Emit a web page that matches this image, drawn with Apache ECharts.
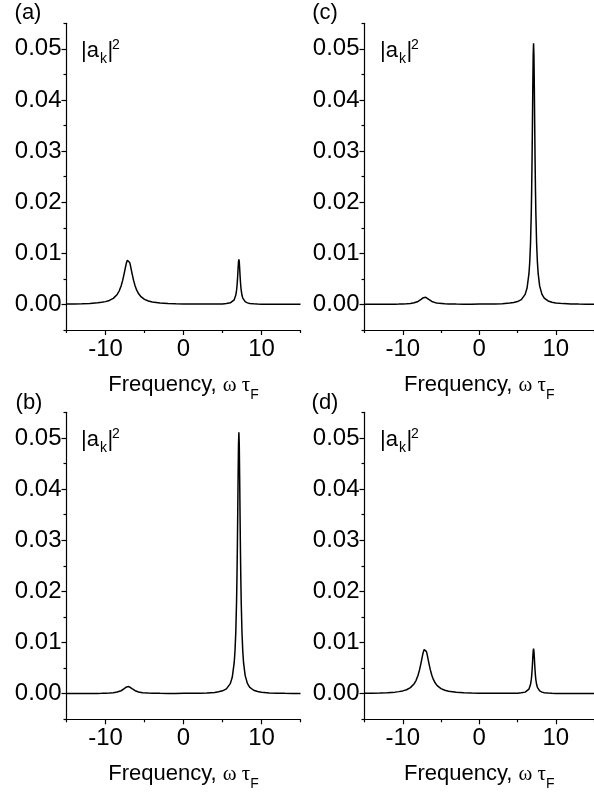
<!DOCTYPE html>
<html><head><meta charset="utf-8">
<script src="https://cdn.jsdelivr.net/npm/echarts@6/dist/echarts.min.js"></script>
<style>html,body{margin:0;padding:0;background:#fff}#c{width:594px;height:800px}</style>
</head><body><div id="c"></div>
<script>
// ---- data ----
const freq = [-15,-14,-13,-12,-11,-10.5,-10,-9.5,-9,-8.75,-8.5,-8.25,-8,-7.8,-7.6,-7.4,-7.3,-7.2,-7.1,-7.0,-6.9,-6.8,-6.6,-6.4,-6.2,-6,-5.75,-5.5,-5.25,-5,-4.5,-4,-3,-2,-1,0,1,2,3,4,4.5,5,5.5,6,6.25,6.5,6.6,6.7,6.8,6.85,6.9,6.95,7.0,7.05,7.1,7.15,7.2,7.25,7.3,7.35,7.4,7.5,7.6,7.7,7.9,8.2,8.5,9,9.5,10,11,12,13,14,15];
// panels (a) and (d)
const spectrumAD = [0.00008,0.00010,0.00014,0.00020,0.00031,0.00041,0.00055,0.00078,0.00119,0.00151,0.00196,0.00263,0.00361,0.00470,0.00609,0.00759,0.00822,0.00865,0.00880,0.00865,0.00822,0.00759,0.00609,0.00470,0.00361,0.00279,0.00208,0.00159,0.00124,0.00100,0.00068,0.00049,0.00029,0.00019,0.00014,0.00010,0.00008,0.00007,0.00007,0.00008,0.00009,0.00011,0.00017,0.00031,0.00049,0.00091,0.00124,0.00179,0.00274,0.00346,0.00443,0.00566,0.00707,0.00831,0.00883,0.00831,0.00707,0.00566,0.00443,0.00346,0.00273,0.00179,0.00124,0.00091,0.00054,0.00031,0.00020,0.00012,0.00008,0.00006,0.00004,0.00003,0.00003,0.00002,0.00002];
// panels (b) and (c)
const spectrumBC = [0.00002,0.00002,0.00003,0.00004,0.00006,0.00007,0.00010,0.00013,0.00020,0.00025,0.00032,0.00043,0.00058,0.00076,0.00098,0.00122,0.00132,0.00139,0.00141,0.00139,0.00132,0.00122,0.00098,0.00076,0.00059,0.00046,0.00035,0.00027,0.00021,0.00018,0.00013,0.00010,0.00007,0.00006,0.00006,0.00007,0.00008,0.00010,0.00015,0.00026,0.00037,0.00056,0.00095,0.00197,0.00321,0.00606,0.00829,0.01187,0.01787,0.02230,0.02798,0.03488,0.04235,0.04859,0.05110,0.04859,0.04235,0.03488,0.02798,0.02230,0.01787,0.01187,0.00829,0.00606,0.00359,0.00197,0.00123,0.00068,0.00043,0.00029,0.00016,0.00010,0.00007,0.00005,0.00004];
const xTicks = [-10, 0, 10];
const xMinorTicks = [-15, -5, 5, 15];
const yTicks = [0, 0.01, 0.02, 0.03, 0.04, 0.05];
const yMinorTicks = [-0.005, 0.005, 0.015, 0.025, 0.035, 0.045, 0.055];
const panelLabels = ['(a)', '(c)', '(b)', '(d)'];
const panelSeries = [spectrumAD, spectrumBC, spectrumBC, spectrumAD];

// ---- layout ----
const grids = [
  {left: 66.5, top: 23.3, width: 234, height: 306.7},
  {left: 364.5, top: 23.3, width: 235, height: 306.7},
  {left: 66.5, top: 412.3, width: 234, height: 307},
  {left: 364.5, top: 412.3, width: 235, height: 307}
];
const offsets = [[0,0],[299,0],[0,389],[299,389]];
const labelPos = [[28,13],[325,13],[29,403],[325,403]];
const SANS = '"Liberation Sans", Arial, sans-serif';
const SERIF = '"Liberation Serif", "Times New Roman", serif';
const black = '#000';

const xAxis = [], yAxis = [], series = [], graphic = [];
grids.forEach((g, i) => {
  xAxis.push({
    gridIndex: i, type: 'value', min: -15, max: 15, position: 'bottom',
    axisLine: {onZero: false, lineStyle: {color: black, width: 1.2}},
    axisTick: {customValues: xTicks, length: 5, lineStyle: {color: black, width: 1.2}},
    axisLabel: {customValues: xTicks, margin: 7, color: black, fontSize: 24, fontFamily: SANS},
    splitLine: {show: false},
    name: '{t|Frequency, }{g|ω τ}{s|F}', nameLocation: 'middle', nameGap: 38,
    nameTextStyle: {rich: {
      t: {fontFamily: SANS, fontSize: 22, color: black, lineHeight: 28, verticalAlign: 'bottom'},
      g: {fontFamily: SERIF, fontSize: 21, color: black, lineHeight: 28, verticalAlign: 'bottom'},
      s: {fontFamily: SANS, fontSize: 14, color: black, lineHeight: 14, verticalAlign: 'bottom', padding: [0,0,-6,0]}
    }}
  });
  yAxis.push({
    gridIndex: i, type: 'value', min: -0.005, max: 0.055, position: 'left',
    axisLine: {onZero: false, lineStyle: {color: black, width: 1.2}},
    axisTick: {customValues: yTicks, length: 5, lineStyle: {color: black, width: 1.2}},
    axisLabel: {customValues: yTicks, margin: 5, color: black, fontSize: 24, fontFamily: SANS,
      formatter: v => Number(v).toFixed(2)},
    splitLine: {show: false}
  });
  series.push({
    type: 'line', xAxisIndex: i, yAxisIndex: i, showSymbol: false, symbol: 'none',
    lineStyle: {color: black, width: 1.5}, animation: false,
    data: freq.map((f, k) => [f, panelSeries[i][k]])
  });
});
// minor tick axes
grids.forEach((g, i) => {
  xAxis.push({
    gridIndex: i, type: 'value', min: -15, max: 15, position: 'bottom',
    axisLine: {show: false, onZero: false},
    axisTick: {customValues: xMinorTicks, length: 3, lineStyle: {color: black, width: 1.2}},
    axisLabel: {show: false}, splitLine: {show: false}
  });
  yAxis.push({
    gridIndex: i, type: 'value', min: -0.005, max: 0.055, position: 'left',
    axisLine: {show: false, onZero: false},
    axisTick: {customValues: yMinorTicks, length: 3, lineStyle: {color: black, width: 1.2}},
    axisLabel: {show: false}, splitLine: {show: false}
  });
  const [ox, oy] = offsets[i];
  graphic.push(
    {type: 'text', x: labelPos[i][0], y: labelPos[i][1], style: {text: panelLabels[i], font: '22px ' + SANS, fill: black, align: 'center', verticalAlign: 'middle'}},
    {type: 'text', x: 81 + ox, y: 51 + oy, style: {text: '|a', font: '22px ' + SANS, fill: black, align: 'left', verticalAlign: 'middle'}},
    {type: 'text', x: 100 + ox, y: 59 + oy, style: {text: 'k', font: '14px ' + SANS, fill: black, align: 'left', verticalAlign: 'middle'}},
    {type: 'text', x: 107.5 + ox, y: 51 + oy, style: {text: '|', font: '22px ' + SANS, fill: black, align: 'left', verticalAlign: 'middle'}},
    {type: 'text', x: 112 + ox, y: 45 + oy, style: {text: '2', font: '14px ' + SANS, fill: black, align: 'left', verticalAlign: 'middle'}}
  );
});

const chart = echarts.init(document.getElementById('c'), null, {renderer: 'canvas'});
chart.setOption({
  animation: false,
  backgroundColor: '#fff',
  grid: grids.map(g => Object.assign({containLabel: false}, g)),
  xAxis, yAxis, series, graphic
});
</script>
</body></html>
